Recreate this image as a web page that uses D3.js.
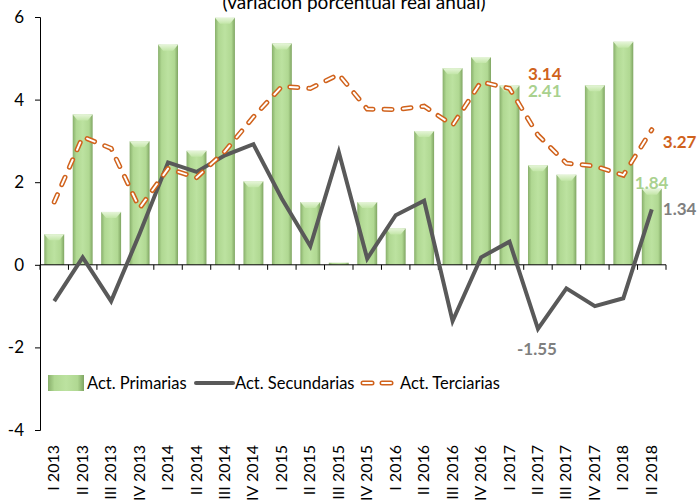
<!DOCTYPE html>
<html lang="es">
<head>
<meta charset="utf-8">
<title>Variación porcentual real anual</title>
<style>
  body { margin: 0; background: #fff; }
  svg { display: block; font-family: Lato, "Open Sans", sans-serif; }
  .tick-y { font-size: 17px; fill: #000; }
  .tick-x { font-size: 16px; fill: #000; }
  .legend text { font-size: 16.5px; fill: #000; }
  .lbl { font-size: 17px; font-weight: bold; }
</style>
</head>
<body>
<svg width="700" height="500"></svg>
<script src="https://cdn.jsdelivr.net/npm/d3@7"></script>
<script>
const quarters = ['I 2013', 'II 2013', 'III 2013', 'IV 2013', 'I 2014', 'II 2014', 'III 2014', 'IV 2014',
  'I 2015', 'II 2015', 'III 2015', 'IV 2015', 'I 2016', 'II 2016', 'III 2016', 'IV 2016',
  'I 2017', 'II 2017', 'III 2017', 'IV 2017', 'I 2018', 'II 2018'];

const primarias = [0.74, 3.64, 1.28, 2.99, 5.33, 2.76, 5.98, 2.02, 5.36, 1.52, 0.05, 1.52,
  0.88, 3.24, 4.76, 5.03, 4.34, 2.41, 2.18, 4.35, 5.40, 1.84];

const secundarias = [-0.88, 0.18, -0.88, 0.75, 2.48, 2.25, 2.65, 2.92, 1.60, 0.45, 2.73, 0.15,
  1.20, 1.55, -1.36, 0.18, 0.56, -1.55, -0.57, -1.00, -0.81, 1.34];

const terciarias = [1.52, 3.10, 2.82, 1.37, 2.33, 2.11, 2.75, 3.58, 4.32, 4.27, 4.61, 3.77,
  3.76, 3.84, 3.38, 4.43, 4.27, 3.14, 2.46, 2.39, 2.17, 3.27];

const yTicks = [-4, -2, 0, 2, 4, 6];

const colors = { prim: '#A9D18E', sec: '#595959', ter: '#D0621C', secLbl: '#7F7F7F' };

const svg = d3.select('svg');
const defs = svg.append('defs');

const x = d3.scaleBand().domain(quarters).range([40, 666]).paddingInner(0.3).paddingOuter(0.15);
const y = d3.scaleLinear().domain([-4, 6]).range([430, 17]);
const cx = q => x(q) + x.bandwidth() / 2;
const fmt = v => v.toFixed(2);   // plain hyphen for negatives, as in the source

// bar gradient (3d look)
const g1 = defs.append('linearGradient').attr('id', 'barGrad');
[[0, '#88AF6B'], [0.18, '#B0D892'], [0.5, '#BCE2A0'], [0.82, '#B0D892'], [1, '#7FA562']]
  .forEach(([o, c]) => g1.append('stop').attr('offset', o).attr('stop-color', c));
const g2 = defs.append('linearGradient').attr('id', 'capGrad').attr('x2', 0).attr('y2', 1);
[[0, '#E6F5D9'], [1, '#C3E6A8']]
  .forEach(([o, c]) => g2.append('stop').attr('offset', o).attr('stop-color', c));

// title (cut at top)
svg.append('text')
  .attr('x', 354).attr('y', 9)
  .attr('text-anchor', 'middle')
  .style('font-size', '19px')
  .text('(variación porcentual real anual)');

// y axis
const yAxis = svg.append('g').attr('transform', 'translate(40,0)')
  .call(d3.axisLeft(y).tickValues(yTicks).tickSize(5).tickFormat(d => String(d)));
yAxis.attr('font-family', null).attr('font-size', null);
yAxis.select('.domain').attr('stroke', '#000');
yAxis.selectAll('text').attr('class', 'tick-y').attr('x', -16);

// bars
const bars = svg.append('g').selectAll('g')
  .data(quarters.map((q, i) => ({ q, v: primarias[i] })))
  .join('g');
bars.append('rect')
  .attr('x', d => x(d.q))
  .attr('y', d => y(Math.max(0, d.v)))
  .attr('width', x.bandwidth())
  .attr('height', d => Math.abs(y(d.v) - y(0)))
  .attr('fill', 'url(#barGrad)');
bars.filter(d => y(0) - y(d.v) > 4).append('path')
  .attr('d', d => {
    const x0 = x(d.q), x1 = x0 + x.bandwidth(), t = y(d.v), h = 6, k = 5;
    return `M${x0},${t}L${x1},${t}L${x1 - k},${t + h}L${x0 + k},${t + h}Z`;
  })
  .attr('fill', 'url(#capGrad)');

// x axis at zero with ticks on band boundaries
const xa = svg.append('g');
xa.append('line')
  .attr('x1', 40).attr('x2', 666)
  .attr('y1', y(0)).attr('y2', y(0))
  .attr('stroke', '#000');
xa.selectAll('line.t')
  .data(d3.range(quarters.length + 1))
  .join('line').attr('class', 't')
  .attr('x1', i => 40 + i * x.step())
  .attr('x2', i => 40 + i * x.step())
  .attr('y1', y(0)).attr('y2', y(0) + 5)
  .attr('stroke', '#000');

// category labels, rotated
svg.append('g').selectAll('text')
  .data(quarters)
  .join('text')
  .attr('class', 'tick-x')
  .attr('text-anchor', 'end')
  .attr('transform', d => `translate(${cx(d) + 5},445) rotate(-90)`)
  .text(d => d);

// secondary line
const line = d3.line().x(d => cx(d.q)).y(d => y(d.v));
svg.append('path')
  .datum(quarters.map((q, i) => ({ q, v: secundarias[i] })))
  .attr('d', line)
  .attr('fill', 'none')
  .attr('stroke', colors.sec)
  .attr('stroke-width', 4)
  .attr('stroke-linejoin', 'miter');

// tertiary dashed line (outlined dashes)
const terData = quarters.map((q, i) => ({ q, v: terciarias[i] }));
svg.append('path').datum(terData)
  .attr('d', line).attr('fill', 'none')
  .attr('stroke', colors.ter).attr('stroke-width', 5)
  .attr('stroke-dasharray', '8,11').attr('stroke-linecap', 'round');
svg.append('path').datum(terData)
  .attr('d', line).attr('fill', 'none')
  .attr('stroke', '#fff').attr('stroke-width', 2)
  .attr('stroke-dasharray', '8,11').attr('stroke-linecap', 'round');

// data labels
const last = quarters.length - 1, ii = 17;
const lbl = (q, v, dx, dy, color, text) => svg.append('text').attr('class', 'lbl')
  .attr('x', cx(q) + dx).attr('y', y(v) + dy).attr('fill', color).text(text);
lbl(quarters[ii], terciarias[ii], -10, -55, colors.ter, fmt(terciarias[ii]));
lbl(quarters[ii], primarias[ii], -10, -68, colors.prim, fmt(primarias[ii]));
lbl(quarters[ii], secundarias[ii], -21, 26, colors.secLbl, fmt(secundarias[ii]));
lbl(quarters[last], terciarias[last], 11, 18, colors.ter, fmt(terciarias[last]));
lbl(quarters[last], primarias[last], -17, 0, colors.prim, fmt(primarias[last]));
lbl(quarters[last], secundarias[last], 11, 6, colors.secLbl, fmt(secundarias[last]));

// legend
const leg = svg.append('g').attr('class', 'legend');
const ly = 383;
leg.append('rect').attr('x', 48).attr('y', ly - 8).attr('width', 36).attr('height', 16)
  .attr('fill', 'url(#barGrad)');
leg.append('text').attr('x', 87).attr('y', ly + 6).text('Act. Primarias');
leg.append('line').attr('x1', 196).attr('x2', 233).attr('y1', ly).attr('y2', ly)
  .attr('stroke', colors.sec).attr('stroke-width', 4).attr('stroke-linecap', 'round');
leg.append('text').attr('x', 235).attr('y', ly + 6).text('Act. Secundarias');
[0, 1].forEach(k => {
  leg.append('line').attr('x1', 363 + k * 19).attr('x2', 372 + k * 19).attr('y1', ly).attr('y2', ly)
    .attr('stroke', colors.ter).attr('stroke-width', 5).attr('stroke-linecap', 'round');
  leg.append('line').attr('x1', 363 + k * 19).attr('x2', 372 + k * 19).attr('y1', ly).attr('y2', ly)
    .attr('stroke', '#fff').attr('stroke-width', 2).attr('stroke-linecap', 'round');
});
leg.append('text').attr('x', 400).attr('y', ly + 6).text('Act. Terciarias');
</script>
</body>
</html>
